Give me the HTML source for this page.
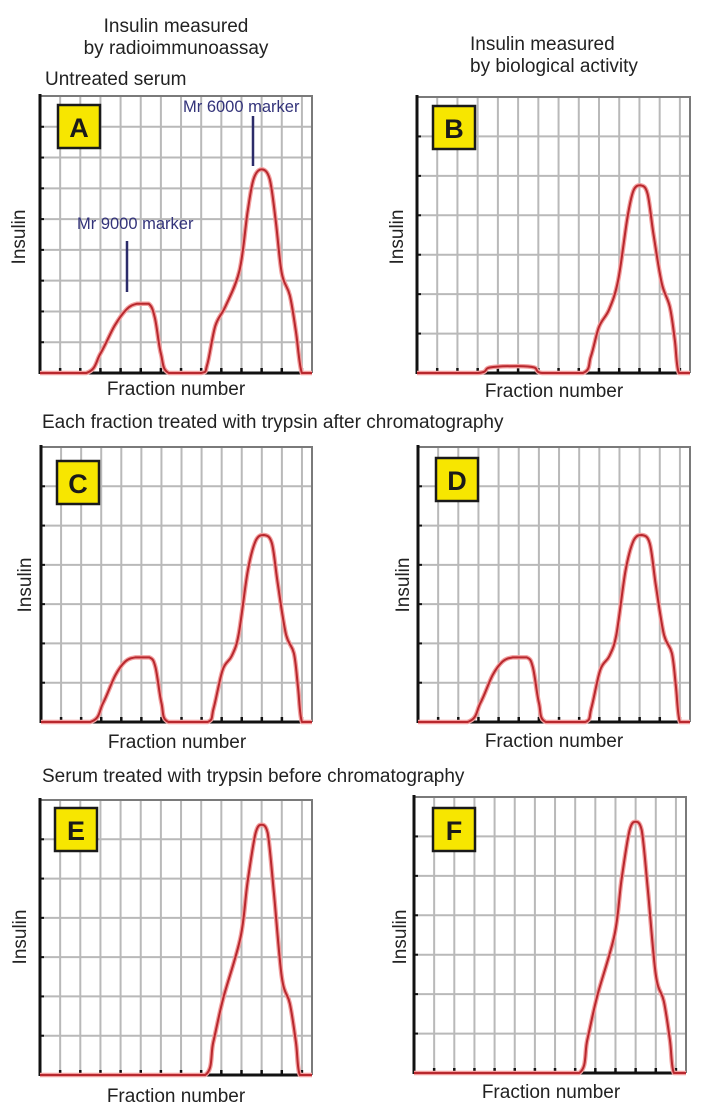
<!DOCTYPE html>
<html><head><meta charset="utf-8"><style>
body{margin:0;background:#fff;width:719px;height:1113px;overflow:hidden;font-family:"Liberation Sans",sans-serif}
svg{display:block}
</style></head><body>
<svg id="fig" width="719" height="1113" viewBox="0 0 719 1113">
<g font-family="Liberation Sans, sans-serif" font-size="19" fill="#222">
<text x="176" y="32" text-anchor="middle">Insulin measured</text>
<text x="176" y="54" text-anchor="middle">by radioimmunoassay</text>
<text x="470" y="50">Insulin measured</text>
<text x="470" y="72">by biological activity</text>
<text x="45" y="85">Untreated serum</text>
<text x="42" y="428">Each fraction treated with trypsin after chromatography</text>
<text x="42" y="782">Serum treated with trypsin before chromatography</text>
</g>
</svg>
<script>
// Curve data: x in fraction-number grid units, y as fraction of axis height
const xA=[0,2.3,3.0,3.7,4.3,4.8,5.4,5.7,6.0,6.4,8.0,8.3,8.7,9.2,9.9,10.3,10.6,11.0,11.4,11.7,12.0,12.4,12.7,13.0,13.5];
const yA=[0,0,0.07,0.17,0.23,0.25,0.25,0.2,0.07,0,0,0.03,0.17,0.24,0.37,0.58,0.7,0.735,0.7,0.55,0.36,0.28,0.15,0,0];
const xB=[0,3.0,3.6,5.0,5.8,6.2,8.2,8.6,9.0,9.5,9.95,10.4,10.7,11.05,11.4,11.7,12.1,12.5,12.75,12.95,13.5];
const yB=[0,0,0.02,0.025,0.02,0,0,0.06,0.167,0.23,0.337,0.56,0.66,0.68,0.65,0.5,0.326,0.24,0.12,0,0];
const xC=[0,2.45,3.1,3.7,4.2,4.7,5.4,5.7,6.0,6.35,8.3,8.6,9.05,9.5,9.85,10.3,10.7,11.1,11.5,11.8,12.2,12.6,12.8,13.0,13.5];
const yC=[0,0,0.07,0.17,0.22,0.235,0.235,0.2,0.07,0,0,0.05,0.19,0.24,0.32,0.55,0.66,0.68,0.65,0.5,0.32,0.25,0.13,0,0];
const xE=[0,8.2,8.6,9.1,9.95,10.3,10.7,11.0,11.3,11.6,12.0,12.4,12.7,12.9,13.5];
const yE=[0,0,0.12,0.28,0.5,0.7,0.88,0.91,0.88,0.67,0.356,0.26,0.12,0,0];
const panels=[
 {id:'A',L:40,T:96,W:272,H:277,rows:9,xs:xA,ys:yA,lbl:[58,105],fx:176,fy:395,ix:25,iy:237},
 {id:'B',L:417,T:97,W:273,H:276,rows:7,xs:xB,ys:yB,lbl:[433,106],fx:554,fy:397,ix:403,iy:237},
 {id:'C',L:41,T:447,W:271,H:275,rows:7,xs:xC,ys:yC,lbl:[57,461],fx:177,fy:748,ix:31,iy:585},
 {id:'D',L:418,T:447,W:272,H:275,rows:7,xs:xC,ys:yC,lbl:[436,458],fx:554,fy:747,ix:409,iy:585},
 {id:'E',L:40,T:800,W:272,H:275,rows:7,xs:xE,ys:yE,lbl:[55,808],fx:176,fy:1102,ix:26,iy:937},
 {id:'F',L:414,T:797,W:272,H:276,rows:7,xs:xE,ys:yE,lbl:[433,808],fx:551,fy:1098,ix:406,iy:937}
];
const NS='http://www.w3.org/2000/svg';
const svg=document.getElementById('fig');
function mk(tag,attrs,parent){const e=document.createElementNS(NS,tag);for(const k in attrs)e.setAttribute(k,attrs[k]);(parent||svg).appendChild(e);return e;}
function clamp(v,a,b){const lo=Math.min(a,b),hi=Math.max(a,b);return Math.max(lo,Math.min(hi,v));}
function smooth(pts){let d='M'+pts[0][0]+','+pts[0][1];for(let i=0;i<pts.length-1;i++){const p0=pts[Math.max(0,i-1)],p1=pts[i],p2=pts[i+1],p3=pts[Math.min(pts.length-1,i+2)];
 const c1=[clamp(p1[0]+(p2[0]-p0[0])/6,p1[0],p2[0]),clamp(p1[1]+(p2[1]-p0[1])/6,p1[1],p2[1])];
 const c2=[clamp(p2[0]-(p3[0]-p1[0])/6,p1[0],p2[0]),clamp(p2[1]-(p3[1]-p1[1])/6,p1[1],p2[1])];
 d+=' C'+c1[0].toFixed(1)+','+c1[1].toFixed(1)+' '+c2[0].toFixed(1)+','+c2[1].toFixed(1)+' '+p2[0].toFixed(1)+','+p2[1].toFixed(1);}return d;}
panels.forEach(p=>{
 const g=mk('g',{});
 
 
 const colW=p.W/13.5;
 const sx=v=>p.L+v*colW, sy=v=>p.T+p.H-v*p.H;
 for(let i=1;i<=13;i++){const l=mk('line',{x1:sx(i),x2:sx(i),y1:p.T,y2:p.T+p.H,stroke:'#b9b9b9','stroke-width':2},g);
  }
 for(let j=1;j<p.rows;j++){const y=p.T+p.H*j/p.rows;const l=mk('line',{x1:p.L,x2:p.L+p.W,y1:y,y2:y,stroke:'#b9b9b9','stroke-width':2},g);
  
  const t=mk('line',{x1:p.L,x2:p.L+4,y1:y,y2:y,stroke:'#111','stroke-width':2},g);
  }
 const b=mk('polyline',{points:`${p.L},${p.T} ${p.L+p.W},${p.T} ${p.L+p.W},${p.T+p.H}`,fill:'none',stroke:'#7a7a7a','stroke-width':2},g);
 
 for(let i=1;i<=13;i++){const t=mk('line',{x1:sx(i),x2:sx(i),y1:p.T+p.H-5,y2:p.T+p.H,stroke:'#111','stroke-width':2.5},g);
  }
 const xa=mk('line',{x1:p.L,x2:p.L+p.W,y1:p.T+p.H,y2:p.T+p.H,stroke:'#111','stroke-width':3},g);
 
 const ya=mk('line',{x1:p.L,x2:p.L,y1:p.T-2,y2:p.T+p.H+1,stroke:'#111','stroke-width':3},g);
 
 const pts=p.xs.map((x,i)=>[sx(x),sy(p.ys[i])]);
 const d=smooth(pts);
 const glow=mk('path',{d:d,fill:'none',stroke:'#f2a0a0','stroke-width':4.5,'stroke-linejoin':'round'},g);
 
 const c=mk('path',{d:d,fill:'none',stroke:'#b8282e','stroke-width':2,'stroke-linejoin':'round'},g);
 
 const r=mk('rect',{x:p.lbl[0],y:p.lbl[1],width:42,height:43,fill:'#f7e600',stroke:'#1a1a1a','stroke-width':2.5},g);
 
 const lt=mk('text',{x:p.lbl[0]+21,y:p.lbl[1]+32,'text-anchor':'middle','font-family':'Liberation Sans, sans-serif','font-size':27,'font-weight':'bold',fill:'#1a1a1a'},g);
 lt.textContent=p.id;
 const xt=mk('text',{x:p.fx,y:p.fy,'text-anchor':'middle','font-family':'Liberation Sans, sans-serif','font-size':19,fill:'#222'},g);
 xt.textContent='Fraction number';
 const yt=mk('text',{x:p.ix,y:p.iy,'text-anchor':'middle',transform:`rotate(-90 ${p.ix} ${p.iy})`,'font-family':'Liberation Sans, sans-serif','font-size':19,fill:'#222'},g);
 yt.textContent='Insulin';
});
const m=mk('g',{});


const m6=mk('text',{x:183,y:112,'font-family':'Liberation Sans, sans-serif','font-size':16.5,fill:'#33337a'},m);
m6.textContent='Mr 6000 marker';
const l6=mk('line',{x1:253,x2:253,y1:116,y2:166,stroke:'#2c2c6a','stroke-width':2.5},m);

const m9=mk('text',{x:77,y:229,'font-family':'Liberation Sans, sans-serif','font-size':16.5,fill:'#33337a'},m);
m9.textContent='Mr 9000 marker';
const l9=mk('line',{x1:127,x2:127,y1:241,y2:292,stroke:'#2c2c6a','stroke-width':2.5},m);

</script>
</body></html>
